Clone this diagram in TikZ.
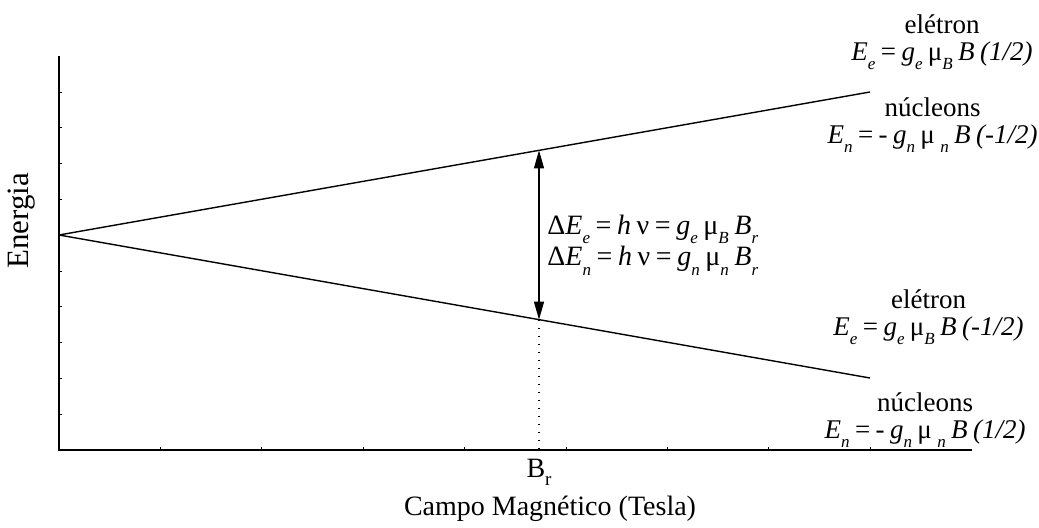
\documentclass[tikz,border=0pt]{standalone}
\usepackage{fontspec}
\setmainfont{Liberation Serif}
\usetikzlibrary{arrows.meta, calc}

% subscript set low, as in the figure
\newcommand{\lo}[1]{\raisebox{-0.75ex}{\fontsize{8.5}{8.5}\selectfont\itshape #1}}
\newcommand{\gp}{\hspace{0.2em}}
\newcommand{\Eel}[1]{\textit{E}\lo{e}\gp=\gp\textit{g}\lo{e}\gp μ\lo{B}\gp\textit{B}\gp\textit{(#1)}}
\newcommand{\Enu}[1]{\textit{E}\lo{n}\gp=\gp-\gp\textit{g}\lo{n}\gp μ\gp\lo{n}\gp\textit{B}\gp\textit{(#1)}}

\begin{document}
\begin{tikzpicture}[x=0.5pt, y=-0.5pt,
      axis/.style={line width=1pt},
      level/.style={line width=0.7pt},
      tick/.style={line width=0.4pt},
      gap/.style={line width=0.6pt, {Triangle[length=9pt,width=5pt]}-{Triangle[length=9pt,width=5pt]}},
      guide/.style={line width=0.8pt, dash pattern=on 0.6pt off 3.4pt},
      lbl/.style={font=\fontsize{13.5}{13.5}\selectfont, align=center, inner sep=0pt},
      rel/.style={font=\fontsize{14}{13.5}\selectfont, align=left, inner sep=0pt, anchor=west}
    ]
      \useasboundingbox (0,0) rectangle (1039,528);
      % --- Axes ---
      \coordinate (orig) at (59,450);
      \coordinate (ytop) at (59,56);
      \coordinate (xend) at (972,450);
      \draw[axis] (ytop) -- (orig) -- (xend);
      \foreach \k in {1,...,10}
        \draw[tick] ($(orig)+(0,-35.8*\k)$) -- ++(3,0);
      \foreach \k in {1,...,8}
        \draw[tick] ($(orig)+(101.4*\k,0)$) -- ++(0,-3);
      % --- Energy levels split from the zero-field point ---
      \coordinate (split) at (59,235);
      \coordinate (up) at (870,92);
      \coordinate (down) at (870,378);
      \draw[level] (split) -- (up);
      \draw[level] (split) -- (down);
      % --- Resonance gap at B_r ---
      \coordinate (gtop) at ($(split)!{480/811}!(up)$);
      \coordinate (gbot) at ($(split)!{480/811}!(down)$);
      \coordinate (br) at (gbot |- orig);
      \draw[gap] (gbot) -- (gtop);
      \draw[guide] (gbot) -- (br);
      \node[rel] (rel) at (547,245)
        {Δ\textit{E}\lo{e}\gp=\gp\textit{h}\gp ν\gp=\gp\textit{g}\lo{e}\gp μ\lo{B}\gp\textit{B}\lo{r}\\
         Δ\textit{E}\lo{n}\gp=\gp\textit{h}\gp ν\gp=\gp\textit{g}\lo{n}\gp μ\lo{n}\gp\textit{B}\lo{r}};
      % --- Level labels ---
      \node[lbl, anchor=east] (eup) at (1033,42) {elétron\\ \Eel{1/2}};
      \node[lbl, anchor=east] (nup) at (1038,125) {núcleons\\ \Enu{-1/2}};
      \node[lbl, anchor=east] (edown) at (1024,317) {elétron\\ \Eel{-1/2}};
      \node[lbl, anchor=east] (ndown) at (1026,420) {núcleons\\ \Enu{1/2}};
      % --- Axis titles ---
      \node[font=\fontsize{15.5}{15.5}\selectfont, rotate=90] (ylab) at (22,221) {Energia};
      \node[font=\fontsize{14}{14}\selectfont, below=1pt] (brlab) at (br) {B{\raisebox{-0.6ex}{\fontsize{9.5}{9.5}\selectfont r}}};
      \node[font=\fontsize{14}{14}\selectfont] (xlab) at (550,509) {Campo Magnético (Tesla)};
    \end{tikzpicture}
\end{document}
